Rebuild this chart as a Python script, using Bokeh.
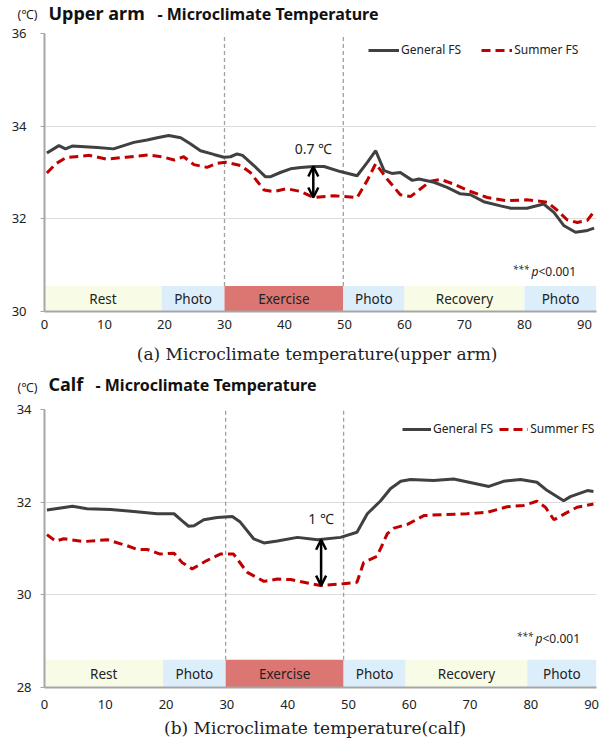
from bokeh.plotting import figure
from bokeh.layouts import column
from bokeh.models import (Label, Legend, LegendItem, FixedTicker, Range1d,
                          Arrow, OpenHead)
from bokeh.core.properties import value
from bokeh.embed import file_html
from bokeh.resources import INLINE

# ---------------- data ----------------
x_ticks = [0, 10, 20, 30, 40, 50, 60, 70, 80, 90]
upper_y_ticks = [30, 32, 34, 36]
calf_y_ticks = [28, 30, 32, 34]

upper_gen_x = [0.4, 2.4, 3.5, 4.6, 8.8, 11.5, 14.9, 17.1, 18.8, 20.7,
               22.7, 24.3, 26.0, 28.2, 29.9, 31.0, 32.1, 33.0, 34.9, 36.8,
               37.7, 39.3, 41.0, 42.7, 44.9, 46.6, 49.3, 52.1, 53.8, 55.2,
               56.6, 57.9, 59.3, 61.3, 62.4, 64.9, 67.1, 69.3, 71.0, 73.2,
               76.0, 77.7, 80.4, 83.2, 84.9, 86.6, 88.5, 90.5, 91.6]
upper_gen_y = [33.42, 33.58, 33.51, 33.57, 33.54, 33.51, 33.65, 33.70, 33.75, 33.80,
               33.75, 33.62, 33.47, 33.39, 33.33, 33.34, 33.40, 33.37, 33.15, 32.91,
               32.91, 33.00, 33.08, 33.11, 33.13, 33.13, 33.02, 32.93, 33.22, 33.47,
               33.04, 32.98, 33.00, 32.83, 32.86, 32.79, 32.68, 32.54, 32.52, 32.37,
               32.28, 32.23, 32.23, 32.32, 32.14, 31.85, 31.71, 31.75, 31.80]

upper_sum_x = [0.4, 1.9, 3.6, 7.5, 10.3, 13.6, 17.3, 19.9, 21.6, 23.2,
               24.9, 27.1, 28.8, 30.2, 32.7, 34.3, 36.6, 38.2, 40.4, 42.7,
               44.9, 48.2, 52.1, 53.8, 55.2, 57.1, 59.3, 61.0, 62.7, 64.3,
               66.0, 68.2, 71.0, 73.8, 77.1, 80.4, 83.8, 85.5, 87.1, 88.8,
               90.5, 91.6]
upper_sum_y = [32.99, 33.19, 33.32, 33.37, 33.29, 33.33, 33.38, 33.33, 33.27, 33.34,
               33.17, 33.11, 33.20, 33.22, 33.15, 33.00, 32.62, 32.59, 32.65, 32.59,
               32.46, 32.50, 32.46, 32.83, 33.19, 32.86, 32.52, 32.48, 32.65, 32.81,
               32.85, 32.75, 32.59, 32.46, 32.39, 32.41, 32.36, 32.18, 31.98, 31.92,
               31.97, 32.16]

calf_gen_x = [0.4, 4.6, 7.0, 10.9, 14.7, 18.5, 21.3, 22.6, 23.7, 24.6,
              26.2, 28.4, 30.9, 32.2, 34.4, 36.1, 38.3, 41.6, 44.9, 48.7,
              51.4, 53.1, 55.3, 56.9, 58.6, 60.2, 64.0, 67.3, 70.6, 73.1,
              75.5, 78.3, 81.0, 82.7, 85.4, 86.5, 89.3, 90.3]
calf_gen_y = [31.83, 31.91, 31.86, 31.84, 31.80, 31.75, 31.75, 31.60, 31.48, 31.49,
              31.62, 31.67, 31.69, 31.57, 31.21, 31.12, 31.16, 31.24, 31.19, 31.24,
              31.35, 31.75, 32.03, 32.29, 32.45, 32.49, 32.47, 32.50, 32.41, 32.34,
              32.45, 32.49, 32.43, 32.25, 32.03, 32.12, 32.25, 32.23]

calf_sum_x = [0.4, 1.8, 3.2, 6.5, 10.3, 13.6, 15.2, 16.9, 19.0, 21.3,
              22.6, 24.3, 26.7, 28.9, 31.1, 33.3, 36.1, 38.3, 40.5, 43.8,
              45.4, 49.2, 51.4, 52.5, 54.7, 56.4, 57.5, 59.7, 62.4, 65.1,
              69.5, 72.8, 76.1, 78.8, 81.0, 82.4, 83.8, 86.0, 87.6, 90.3]
calf_sum_y = [31.30, 31.16, 31.21, 31.15, 31.19, 31.06, 30.98, 30.98, 30.88, 30.90,
              30.70, 30.56, 30.74, 30.88, 30.88, 30.49, 30.29, 30.34, 30.33, 30.24,
              30.20, 30.24, 30.27, 30.70, 30.83, 31.32, 31.44, 31.52, 31.71, 31.73,
              31.75, 31.78, 31.90, 31.93, 32.02, 31.89, 31.62, 31.78, 31.89, 31.96]

phase_names = ["Rest", "Photo", "Exercise", "Photo", "Recovery", "Photo"]
phase_colors = ["#F8FCE6", "#DDEEFB", "#DB7672", "#DDEEFB", "#F8FCE6", "#DDEEFB"]
upper_phase_start = [0, 19.5, 30, 49.8, 60, 80]
upper_phase_end = [19.5, 30, 49.8, 60, 80, 92]
calf_phase_start = [0, 19.5, 29.8, 49.2, 59.4, 79.4]
calf_phase_end = [19.5, 29.8, 49.2, 59.4, 79.4, 90.8]
upper_phase_band = [30, 30.55]
calf_phase_band = [28, 28.6]
upper_exercise_marks = [30, 49.8]
calf_exercise_marks = [29.8, 49.2]

upper_diff = {"x": 44.8, "top": 33.13, "bottom": 32.46, "label": "0.7 \u2103", "label_y": 33.52}
calf_diff = {"x": 45.5, "top": 31.19, "bottom": 30.20, "label": "1 \u2103", "label_y": 31.65}

series_names = ["General FS", "Summer FS"]
unit_label = "(\u2103)"
title_parts_a = ["Upper arm", "- Microclimate  Temperature"]
title_parts_b = ["Calf", "- Microclimate  Temperature"]
caption_a = "(a)  Microclimate  temperature(upper arm)"
caption_b = "(b)  Microclimate  temperature(calf)"

FONT = "Noto Sans"
SERIF = "DejaVu Serif"
GEN_COLOR = "#404040"
SUM_COLOR = "#C00000"
W = 600
LEFT = 44
RIGHT = 4


def text_strip(height, unit=None, unit_y=None):
    # frame of this strip is aligned with the chart frames (x = page pixels)
    t = figure(width=W, height=height, output_backend="svg", toolbar_location=None,
               x_range=Range1d(LEFT, W - RIGHT), y_range=Range1d(height, 0),
               x_axis_type=None, min_border_left=LEFT, min_border_right=RIGHT,
               min_border_top=0, min_border_bottom=0)
    t.outline_line_color = None
    t.grid.visible = False
    ya = t.yaxis[0]
    ya.axis_line_color = None
    ya.major_tick_line_color = None
    ya.minor_tick_line_color = None
    ya.major_tick_out = 0
    ya.major_tick_in = 0
    if unit:
        # unit shown as the single tick label of an otherwise invisible axis
        ya.ticker = FixedTicker(ticks=[unit_y])
        ya.major_label_overrides = {unit_y: unit}
        ya.major_label_standoff = 7
        ya.major_label_text_font = FONT
        ya.major_label_text_font_size = "12.5px"
        ya.major_label_text_color = "#222222"
    else:
        ya.ticker = FixedTicker(ticks=[])
        ya.visible = False
    return t


def add_title(t, parts, xs, ys):
    t.text(x=[xs[0]], y=[ys[0]], text=[parts[0]], text_font=value(FONT),
           text_font_size="18px", text_font_style="bold", text_color="#111111",
           text_baseline="middle")
    t.text(x=[xs[1]], y=[ys[1]], text=[parts[1]], text_font=value(FONT),
           text_font_size="16px", text_font_style="bold", text_color="#111111",
           text_baseline="middle")


def add_caption(t, text, x, y):
    t.text(x=[x], y=[y], text=[text], text_font=value(SERIF), text_font_size="17px",
           text_color="#222222", text_align="center", text_baseline="middle")


def make_panel(gen_x, gen_y, sum_x, sum_y, y_ticks, x_end, p_start, p_end, band,
               marks, diff, height, border_top, border_bottom,
               x_standoff, y_standoff, legend_loc, legend_spacing, glyph_w, pval_xy):
    p = figure(width=W, height=height, output_backend="svg", toolbar_location=None,
               x_range=Range1d(0, x_end), y_range=Range1d(y_ticks[0], y_ticks[-1]),
               min_border_left=LEFT, min_border_right=RIGHT,
               min_border_top=border_top, min_border_bottom=border_bottom)
    p.outline_line_color = None
    p.background_fill_color = "white"

    p.xaxis.ticker = FixedTicker(ticks=x_ticks)
    p.yaxis.ticker = FixedTicker(ticks=y_ticks)
    p.xgrid.visible = False
    p.ygrid.grid_line_color = "#dcdcdc"
    p.ygrid.grid_line_width = 1
    for ax in (p.xaxis[0], p.yaxis[0]):
        ax.axis_line_color = "#a6a6a6"
        ax.axis_line_width = 2
        ax.minor_tick_line_color = None
        ax.major_label_text_font = FONT
        ax.major_label_text_font_size = "13px"
        ax.major_label_text_color = "#222222"
    p.xaxis.major_tick_line_color = None
    p.xaxis.major_tick_out = 0
    p.xaxis.major_tick_in = 0
    p.xaxis.major_label_standoff = x_standoff
    p.yaxis.major_tick_line_color = "#a6a6a6"
    p.yaxis.major_tick_in = 0
    p.yaxis.major_tick_out = 4
    p.yaxis.major_label_standoff = y_standoff

    # dashed exercise markers
    p.segment(x0=marks, y0=[band[1]] * len(marks), x1=marks, y1=[y_ticks[-1]] * len(marks),
              line_color="#a0a0a0", line_width=1.3, line_dash="4 3")

    # phase bands
    p.quad(left=p_start, right=p_end, bottom=[band[0]] * len(p_start),
           top=[band[1]] * len(p_start), fill_color=phase_colors, line_color=None)
    mids = [(a + b) / 2 for a, b in zip(p_start, p_end)]
    p.text(x=mids, y=[(band[0] + band[1]) / 2] * len(mids), text=phase_names,
           text_align="center", text_baseline="middle", text_font=value(FONT),
           text_font_size="13.5px", text_color="#222222")

    # series
    r_sum = p.line(sum_x, sum_y, line_color=SUM_COLOR, line_width=3, line_dash="9 5")
    r_gen = p.line(gen_x, gen_y, line_color=GEN_COLOR, line_width=3)

    legend = Legend(items=[LegendItem(label=series_names[0], renderers=[r_gen]),
                           LegendItem(label=series_names[1], renderers=[r_sum])],
                    orientation="horizontal", location=legend_loc,
                    border_line_color=None, background_fill_alpha=0,
                    label_text_font=FONT, label_text_font_size="12px",
                    label_text_color="#222222", glyph_width=glyph_w, glyph_height=16,
                    label_standoff=2, spacing=legend_spacing, padding=0, margin=0,
                    label_height=16, label_width=10)
    p.add_layout(legend)

    # difference arrow
    p.add_layout(Arrow(x_start=diff["x"], y_start=diff["top"], x_end=diff["x"],
                       y_end=diff["bottom"], line_width=2.5, line_color="black",
                       start=OpenHead(size=10, line_width=2.5, line_color="black"),
                       end=OpenHead(size=10, line_width=2.5, line_color="black")))
    p.add_layout(Label(x=diff["x"], y=diff["label_y"], text=diff["label"],
                       text_align="center", text_baseline="middle", text_font=FONT,
                       text_font_size="14px", text_color="#222222"))

    # p-value note
    px, py = pval_xy
    p.add_layout(Label(x=px, y=py + 3, x_units="screen", y_units="screen", text="***",
                       text_font=FONT, text_font_size="10px", text_color="#222222",
                       text_baseline="middle", text_font_style="italic"))
    p.add_layout(Label(x=px + 19, y=py, x_units="screen", y_units="screen", text="p",
                       text_font=FONT, text_font_size="12px", text_color="#222222",
                       text_baseline="middle", text_font_style="italic"))
    p.add_layout(Label(x=px + 26, y=py, x_units="screen", y_units="screen", text="<0.001",
                       text_font=FONT, text_font_size="12px", text_color="#222222",
                       text_baseline="middle"))
    return p


# title strip for (a)
t1 = text_strip(24, unit_label, 14)
add_title(t1, title_parts_a, [48, 157], [12, 13])

p1 = make_panel(upper_gen_x, upper_gen_y, upper_sum_x, upper_sum_y, upper_y_ticks, 92,
                upper_phase_start, upper_phase_end, upper_phase_band, upper_exercise_marks,
                upper_diff, 314, 9, 27, 8, 14, (324, 253), 20, 31, (468, 40))

# caption (a)
t2a = text_strip(32)
add_caption(t2a, caption_a, 322, 15)

# title strip for (b)
t2b = text_strip(30, unit_label, 17)
add_title(t2b, title_parts_b, [48, 95], [13, 14])

p2 = make_panel(calf_gen_x, calf_gen_y, calf_sum_x, calf_sum_y, calf_y_ticks, 90.8,
                calf_phase_start, calf_phase_end, calf_phase_band, calf_exercise_marks,
                calf_diff, 315, 9, 28, 12, 9, (358, 250), 6, 29, (472, 49))

# caption (b)
t3 = text_strip(24)
add_caption(t3, caption_b, 320, 12)

layout = column(t1, p1, t2a, t2b, p2, t3, spacing=0)
open("out.html", "w").write(file_html(layout, INLINE))
